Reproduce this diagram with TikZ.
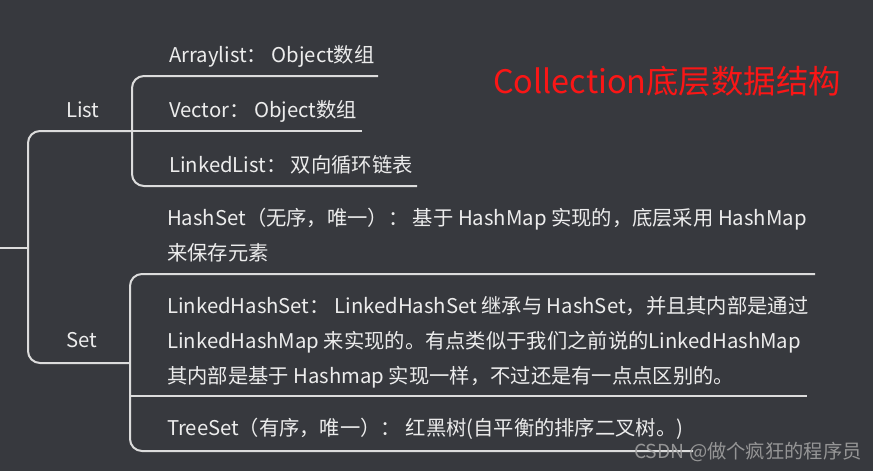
\documentclass[tikz,border=0pt]{standalone}
\usepackage{fontspec}
\setmainfont{Noto Sans CJK SC}
\usetikzlibrary{positioning}
\definecolor{bgcol}{RGB}{55,57,62}
\definecolor{linecol}{RGB}{220,220,220}
\definecolor{txtcol}{RGB}{236,236,236}
\definecolor{myred}{RGB}{250,22,22}
\definecolor{markcol}{RGB}{160,160,160}
\tikzset{
  branch/.style={line width=2pt,linecol,rounded corners=12pt},
  leaf/.style={anchor=base west,inner sep=0,txtcol,align=left,
    font=\fontsize{20.3}{35}\selectfont},
  cat/.style={leaf},
  title/.style={anchor=base west,inner sep=0,myred,font=\fontsize{32.4}{32}\selectfont},
  wmark/.style={anchor=base west,inner sep=0,markcol,opacity=0.9,font=\fontsize{19.3}{20}\selectfont}
}
\begin{document}
\begin{tikzpicture}[x=1pt,y=-1pt]
  \fill[bgcol] (0,0) rectangle (873,471);
  \useasboundingbox (0,0) rectangle (873,471);
  % categories and leaves (base = last line)
  \node[cat] (list) at (66,117) {List};
  \node[cat] (set)  at (66,347) {Set};
  \node[leaf] (arr) at (169,62)  {Arraylist： Object数组};
  \node[leaf] (vec) at (169,117) {Vector： Object数组};
  \node[leaf] (lnk) at (169,172) {LinkedList： 双向循环链表};
  \node[leaf] (hs)  at (167,260) {HashSet（无序，唯一）： 基于 HashMap 实现的，底层采用 HashMap\\来保存元素};
  \node[leaf] (lhs) at (167,383) {LinkedHashSet： LinkedHashSet 继承与 HashSet，并且其内部是通过\\LinkedHashMap 来实现的。有点类似于我们之前说的LinkedHashMap\\其内部是基于 Hashmap 实现一样，不过还是有一点点区别的。};
  \node[leaf] (ts)  at (167,435) {TreeSet（有序，唯一）： 红黑树(自平衡的排序二叉树。)};
  \node[title] (ttl) at (493,93) {Collection底层数据结构};
  % connector points
  \coordinate (root)     at (0,248);
  \coordinate (trunk)    at (28,248);
  \coordinate (listfork) at (132,131);
  \coordinate (setfork)  at (130,363);
  \coordinate (arrend)   at (378,76);
  \coordinate (vecend)   at (362,131);
  \coordinate (lnkend)   at (417,186);
  \coordinate (hsend)    at (815,274);
  \coordinate (lhsend)   at (807,396);
  \coordinate (tsend)    at (693,451);
  % connectors
  \draw[branch] (root) -- (trunk);
  \draw[branch] (listfork) -- (listfork -| trunk) -- (setfork -| trunk) -- (setfork);
  \draw[branch] (arrend) -- (arrend -| listfork) -- (lnkend -| listfork) -- (lnkend);
  \draw[branch] (listfork) -- (vecend);
  \draw[branch] (hsend) -- (hsend -| setfork) -- (tsend -| setfork) -- (tsend);
  \draw[branch] (lhsend -| setfork) -- (lhsend);
  \node[wmark] (wm) at (634,458) {CSDN @做个疯狂的程序员};
\end{tikzpicture}
\end{document}
